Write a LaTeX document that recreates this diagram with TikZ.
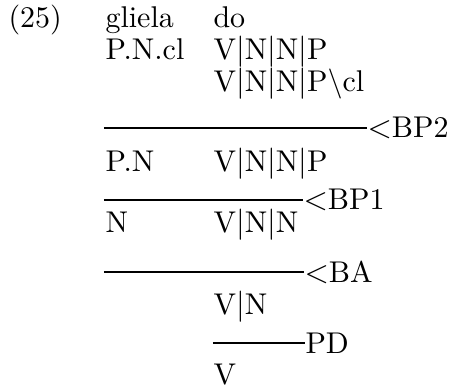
\documentclass[tikz,border=0pt]{standalone}
\usepackage{tikz}
\usetikzlibrary{positioning}

\begin{document}
\begin{tikzpicture}[
  x=0.35pt, y=-0.35pt,
  font=\fontsize{10.5}{13}\selectfont,
  % ── text styles ──────────────────────────────────────────
  word/.style={anchor=base west, inner sep=0pt},
  rulelbl/.style={anchor=west, inner sep=0pt},
  % ── derivation rules ─────────────────────────────────────
  stepline/.style={line width=0.9pt, draw=black},
]
\useasboundingbox (0,0) rectangle (449,389);

%% ── EXAMPLE NUMBER ───────────────────────────────────────────
\node[word] (num) at (8,28) {(25)};

%% ── LEXICAL ITEMS ────────────────────────────────────────────
\node[word] (w1)  at (105,28) {gliela};
\node[word] (w2)  at (213,28) {do};
\node[word] (c1)  at (105,60) {P.N.cl};
\node[word] (c2)  at (213,60) {V$|$N$|$N$|$P};
\node[word] (c2b) at (213,92) {V$|$N$|$N$|$P\textbackslash cl};

%% ── STEP 1: <BP2 ─────────────────────────────────────────────
\coordinate (s1) at (104,128);
\node[rulelbl] (bp2) at (367,128) {$<$BP2};
\draw[stepline] (s1) -- (bp2.west);
\node[word] (r1a) at (105,172) {P.N};
\node[word] (r1b) at (213,172) {V$|$N$|$N$|$P};

%% ── STEP 2: <BP1 ─────────────────────────────────────────────
\coordinate (s2) at (104,200);
\node[rulelbl] (bp1) at (303,200) {$<$BP1};
\draw[stepline] (s2) -- (bp1.west);
\node[word] (r2a) at (105,233) {N};
\node[word] (r2b) at (213,233) {V$|$N$|$N};

%% ── STEP 3: <BA ──────────────────────────────────────────────
\coordinate (s3) at (104,272);
\node[rulelbl] (ba) at (304,272) {$<$BA};
\draw[stepline] (s3) -- (ba.west);
\node[word] (r3) at (213,315) {V$|$N};

%% ── STEP 4: PD ───────────────────────────────────────────────
\coordinate (s4) at (213,343);
\node[rulelbl] (pd) at (305,343) {PD};
\draw[stepline] (s4) -- (pd.west);
\node[word] (r4) at (213,385) {V};

\end{tikzpicture}
\end{document}
